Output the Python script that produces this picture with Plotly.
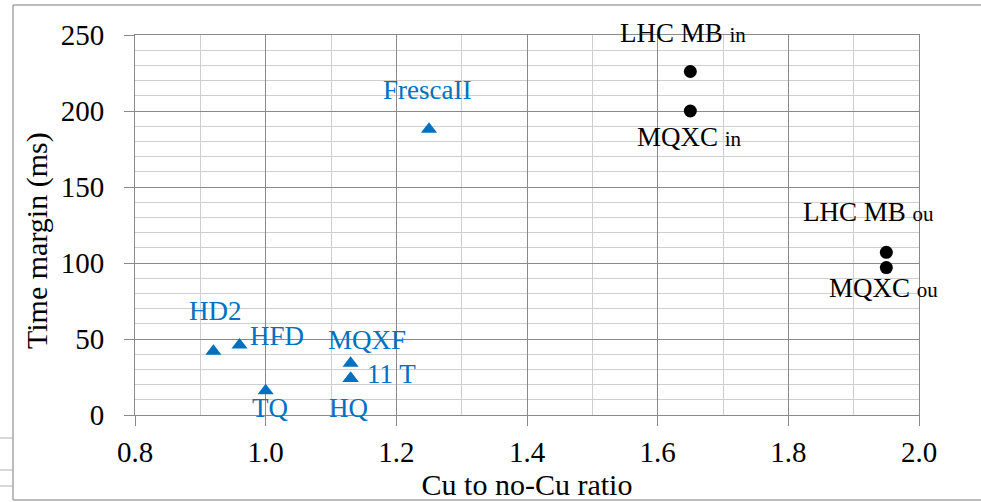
import plotly.graph_objects as go

# ---- data ----
blue_names = ["HD2", "HFD", "TQ", "MQXF", "11 T", "HQ", "FrescaII"]
blue_x = [0.92, 0.96, 1.00, 1.13, 1.13, 1.13, 1.25]
blue_y = [42, 46, 16, 34, 24, 24, 188]

black_names = ["LHC MB in", "MQXC in", "LHC MB ou", "MQXC ou"]
black_x = [1.65, 1.65, 1.95, 1.95]
black_y = [226, 200, 107, 97]

x_ticks = [0.8, 1.0, 1.2, 1.4, 1.6, 1.8, 2.0]
y_ticks = [0, 50, 100, 150, 200, 250]

FONT = "Liberation Serif"
BLUE = "#0070C0"
MAJ = "#8a8a8a"
MIN = "#cfcfcf"

fig = go.Figure()
fig.add_trace(go.Scatter(x=blue_x, y=blue_y, mode="markers",
                         marker=dict(symbol="triangle-up", size=14, color=BLUE),
                         hoverinfo="skip", showlegend=False))
fig.add_trace(go.Scatter(x=black_x, y=black_y, mode="markers",
                         marker=dict(symbol="circle", size=13, color="black"),
                         hoverinfo="skip", showlegend=False))

# label placement (pixel offsets relative to the point)
blue_lbl = {
    "HD2": dict(xshift=2, yshift=40, xanchor="center"),
    "HFD": dict(xshift=8, yshift=9, xanchor="left"),
    "TQ": dict(xshift=4, yshift=-17, xanchor="center"),
    "MQXF": dict(xshift=16, yshift=23, xanchor="center"),
    "11 T": dict(xshift=14, yshift=5, xanchor="left"),
    "HQ": dict(xshift=-2, yshift=-29, xanchor="center"),
    "FrescaII": dict(xshift=-2, yshift=39, xanchor="center"),
}
for n, x, y in zip(blue_names, blue_x, blue_y):
    fig.add_annotation(x=x, y=y, text=n, showarrow=False, yanchor="middle",
                       font=dict(family=FONT, size=27, color=BLUE), **blue_lbl[n])

black_lbl = {
    "LHC MB in": dict(xshift=-7, yshift=38),
    "MQXC in": dict(xshift=-1, yshift=-26),
    "LHC MB ou": dict(xshift=-18, yshift=40),
    "MQXC ou": dict(xshift=-3, yshift=-20),
}
for n, x, y in zip(black_names, black_x, black_y):
    main, sub = n.rsplit(" ", 1)
    txt = f'{main} <span style="font-size:21px">{sub}</span>'
    fig.add_annotation(x=x, y=y, text=txt, showarrow=False, yanchor="middle",
                       xanchor="center",
                       font=dict(family=FONT, size=27, color="black"), **black_lbl[n])

axis_common = dict(
    showgrid=True, gridcolor=MAJ, gridwidth=1,
    showline=True, linecolor=MAJ, linewidth=1, mirror=True,
    ticks="outside", ticklen=10, tickcolor=MAJ, tickwidth=1,
    zeroline=False, automargin=False,
    tickfont=dict(family=FONT, size=29, color="black"),
)

fig.update_xaxes(range=[0.8, 2.0], tickvals=x_ticks,
                 ticktext=[f"{v:.1f}" for v in x_ticks],
                 minor=dict(dtick=0.1, tick0=0.8, showgrid=True, gridcolor=MIN, ticks=""),
                 title=dict(text="Cu to no-Cu ratio", standoff=0,
                            font=dict(family=FONT, size=30, color="black")),
                 ticklabelstandoff=1,
                 **axis_common)
fig.update_yaxes(range=[0, 250], tickvals=y_ticks,
                 minor=dict(dtick=10, tick0=0, showgrid=True, gridcolor=MIN, ticks=""),
                 ticklabelstandoff=14,
                 **axis_common)

# outer frame (paper coordinates derived from the plot area: 135..919 x, 35..415 y)
W, H = 784.0, 380.0
def px(xp):
    return (xp - 135) / W
def py(yp):
    return (415 - yp) / H

# y-axis title (placed slightly below the plot centre, as in the reference)
fig.add_annotation(xref="paper", yref="paper", x=px(37), y=py(241), text="Time margin (ms)",
                   textangle=-90, showarrow=False, xanchor="center", yanchor="middle",
                   font=dict(family=FONT, size=30, color="black"))

frame = dict(color="#a6a6a6", width=1.5)
fig.add_shape(type="line", xref="paper", yref="paper", x0=px(13), x1=px(990), y0=py(5), y1=py(5), line=frame)
fig.add_shape(type="line", xref="paper", yref="paper", x0=px(13), x1=px(13), y0=py(5), y1=py(500), line=frame)
fig.add_shape(type="line", xref="paper", yref="paper", x0=px(13), x1=px(990), y0=py(500), y1=py(500), line=frame)
for yy in [438, 470, 486]:
    fig.add_shape(type="line", xref="paper", yref="paper", x0=px(-5), x1=px(13), y0=py(yy), y1=py(yy),
                  line=dict(color="#b0b0b0", width=1))

fig.update_layout(
    width=981, height=502,
    margin=dict(l=135, r=62, t=35, b=87),
    paper_bgcolor="white", plot_bgcolor="white",
    font=dict(family=FONT, color="black"),
)

fig.write_html("out.html")
